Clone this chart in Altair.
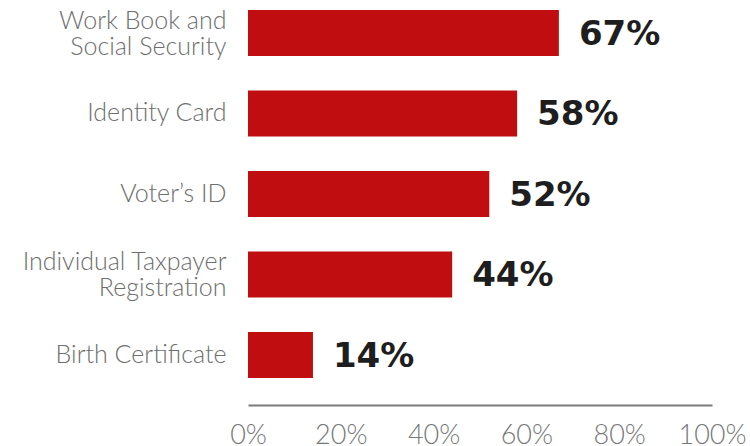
import altair as alt
import pandas as pd

# Share of respondents holding each document
documents = [
    "Work Book and Social Security",
    "Identity Card",
    "Voter's ID",
    "Individual Taxpayer Registration",
    "Birth Certificate",
]
shares = [67, 58, 52, 44, 14]
x_ticks = [0, 20, 40, 60, 80, 100]

df = pd.DataFrame({"document": documents, "share": shares})
df["label"] = df["share"].astype(str) + "%"

two_line = (
    "datum.value == 'Work Book and Social Security' || "
    "datum.value == 'Individual Taxpayer Registration'"
)
label_expr = (
    "datum.label == 'Work Book and Social Security' ? ['Work Book and', 'Social Security'] : "
    "datum.label == 'Individual Taxpayer Registration' ? ['Individual Taxpayer', 'Registration'] : "
    "datum.label == \"Voter's ID\" ? 'Voter’s ID' : datum.label"
)

y_enc = alt.Y(
    "document:N",
    sort=documents,
    title=None,
    scale=alt.Scale(paddingInner=0.43, paddingOuter=0.23, align=0.27),
    axis=alt.Axis(
        domain=False,
        ticks=False,
        labelExpr=label_expr,
        labelFont="Lato",
        labelFontWeight=300,
        labelFontSize=25,
        labelColor="#6e6e6e",
        labelPadding=22,
        labelLineHeight=26,
        labelLimit=300,
        labelOffset={"condition": {"test": two_line, "value": -12}, "value": 0},
    ),
)

x_enc = alt.X(
    "share:Q",
    title=None,
    scale=alt.Scale(domain=[0, 100], nice=False),
    axis=alt.Axis(
        values=x_ticks,
        labelExpr="datum.value + '%'",
        grid=False,
        ticks=False,
        domainColor="#7a7a7a",
        domainWidth=2,
        labelFont="Lato",
        labelFontWeight=300,
        labelFontSize=27,
        labelColor="#787878",
        labelPadding=17,
        labelFlush=False,
    ),
)

bars = alt.Chart(df).mark_bar(color="#C00D0F").encode(x=x_enc, y=y_enc)

values = alt.Chart(df).mark_text(
    align="left",
    baseline="middle",
    dx=20,
    dy=2,
    font="DejaVu Sans",
    fontWeight="bold",
    fontSize=34,
    color="#1e1e1e",
).encode(x="share:Q", y=alt.Y("document:N", sort=documents), text="label:N")

chart = (
    alt.layer(bars, values)
    .properties(
        width=464,
        height=405,
        padding={"left": 248, "top": 0, "right": 38, "bottom": 41},
        autosize=alt.AutoSizeParams(type="none"),
        background="white",
    )
    .configure_view(stroke=None)
)

chart.save("out.html", embed_options={"renderer": "svg", "actions": False})
